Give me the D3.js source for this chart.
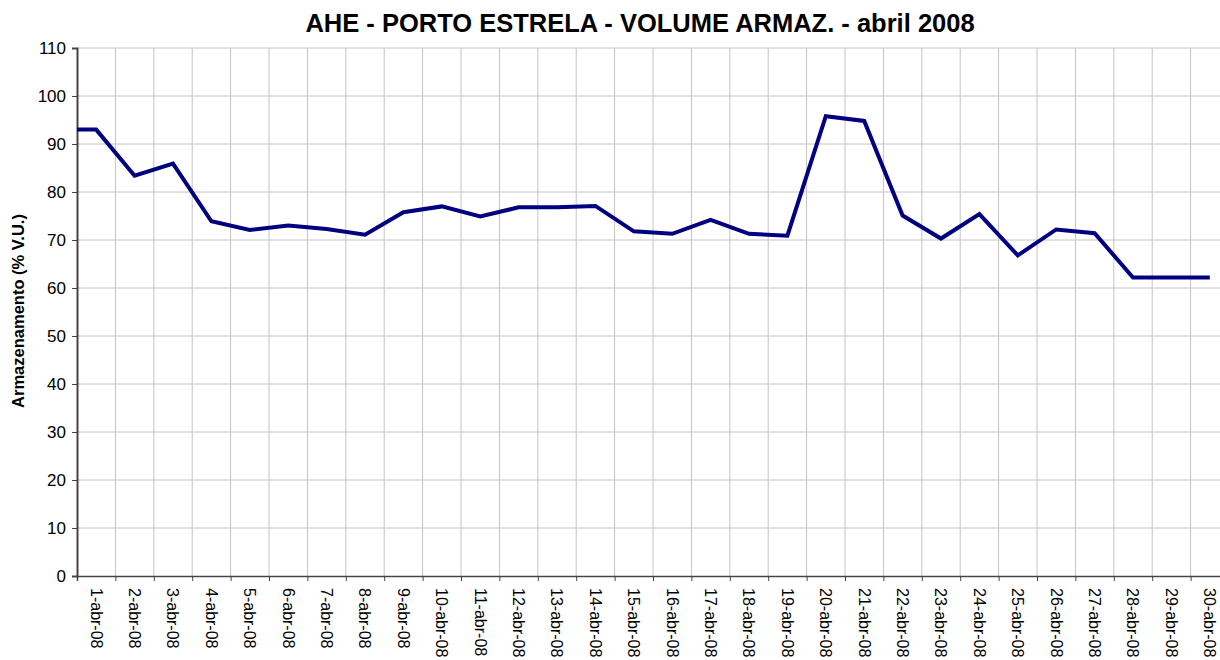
<!DOCTYPE html>
<html>
<head>
<meta charset="utf-8">
<script src="https://cdn.jsdelivr.net/npm/d3@7"></script>
<style>
  body { margin: 0; background: #fff; }
  svg { display: block; font-family: "Liberation Sans", Arial, sans-serif; }
</style>
</head>
<body>
<div class="lineChart"></div>
<script>
// data
var days = ["1-abr-08","2-abr-08","3-abr-08","4-abr-08","5-abr-08","6-abr-08","7-abr-08","8-abr-08","9-abr-08","10-abr-08",
  "11-abr-08","12-abr-08","13-abr-08","14-abr-08","15-abr-08","16-abr-08","17-abr-08","18-abr-08","19-abr-08","20-abr-08",
  "21-abr-08","22-abr-08","23-abr-08","24-abr-08","25-abr-08","26-abr-08","27-abr-08","28-abr-08","29-abr-08","30-abr-08"];
var storage = [93.0, 83.4, 85.9, 73.9, 72.1, 73.0, 72.3, 71.1, 75.8, 77.0,
  74.9, 76.8, 76.8, 77.1, 71.8, 71.3, 74.2, 71.3, 70.9, 95.8,
  94.8, 75.1, 70.3, 75.4, 66.8, 72.2, 71.4, 62.2, 62.2, 62.2];
// last value of the previous month, only its segment inside the plot shows
var prevDay = "31-mar-08";
var prevStorage = 93.0;
var yTicks = [0, 10, 20, 30, 40, 50, 60, 70, 80, 90, 100, 110];

var svgWidth = 1220;
var svgHeight = 660;
var margin = { top: 48, right: -9, bottom: 84, left: 77 };
var width = svgWidth - margin.left - margin.right;
var height = svgHeight - margin.top - margin.bottom;

var svg = d3.select(".lineChart").append("svg")
  .attr("width", svgWidth)
  .attr("height", svgHeight);

svg.append("text")
  .attr("x", 640)
  .attr("y", 32)
  .attr("text-anchor", "middle")
  .style("font-size", "25.5px")
  .style("font-weight", "bold")
  .text("AHE - PORTO ESTRELA - VOLUME ARMAZ. - abril 2008");

var chartGroup = svg.append("g")
  .attr("transform", `translate(${margin.left}, ${margin.top})`);

// x positions by category index, ticks sit on the category edges
var xScale = d3.scaleLinear().domain([0, days.length]).range([0, width]);
var yScale = d3.scaleLinear().domain([0, 110]).range([height, 0]);

// gridlines
chartGroup.append("g").selectAll("line.h")
  .data(yTicks.slice(1))
  .enter().append("line")
  .attr("x1", 0).attr("x2", width)
  .attr("y1", d => yScale(d)).attr("y2", d => yScale(d))
  .attr("stroke", "#c4c4c4").attr("stroke-width", 1);

chartGroup.append("g").selectAll("line.v")
  .data(d3.range(1, days.length + 1))
  .enter().append("line")
  .attr("x1", d => xScale(d)).attr("x2", d => xScale(d))
  .attr("y1", 0).attr("y2", height)
  .attr("stroke", "#c4c4c4").attr("stroke-width", 1);

// axes
var leftAxis = d3.axisLeft(yScale).tickValues(yTicks).tickSize(5).tickPadding(6);
var yAxis = chartGroup.append("g").call(leftAxis);
yAxis.select(".domain").attr("stroke", "#444").attr("stroke-width", 2);
yAxis.selectAll(".tick line").attr("stroke", "#444");
yAxis.selectAll("text").style("font-size", "17px").attr("fill", "#000");

var bottomAxis = d3.axisBottom(xScale).tickValues(d3.range(0, days.length + 1)).tickSize(5).tickFormat("");
var xAxis = chartGroup.append("g")
  .attr("transform", `translate(0, ${height})`)
  .call(bottomAxis);
xAxis.select(".domain").attr("stroke", "#444").attr("stroke-width", 1.5);
xAxis.selectAll(".tick line").attr("stroke", "#444");

chartGroup.append("g").selectAll("text")
  .data(days)
  .enter().append("text")
  .attr("transform", (d, i) => `translate(${xScale(i + 0.5)}, ${height + 12}) rotate(90)`)
  .attr("dy", "0.35em")
  .style("font-size", "16px")
  .text(d => d);

// y axis title
svg.append("text")
  .attr("transform", `translate(24, ${margin.top + height / 2 - 1}) rotate(-90)`)
  .attr("text-anchor", "middle")
  .style("font-size", "16.5px")
  .style("font-weight", "bold")
  .text("Armazenamento (% V.U.)");

// line
chartGroup.append("clipPath").attr("id", "plotClip")
  .append("rect").attr("width", width).attr("height", height);

var series = [{ i: -1, v: prevStorage, day: prevDay }]
  .concat(storage.map((v, i) => ({ i: i, v: v, day: days[i] })));

var line = d3.line()
  .x(d => xScale(d.i + 0.5))
  .y(d => yScale(d.v));

chartGroup.append("path")
  .datum(series)
  .attr("clip-path", "url(#plotClip)")
  .attr("d", line)
  .attr("fill", "none")
  .attr("stroke", "#000080")
  .attr("stroke-width", 4)
  .attr("stroke-linejoin", "miter");
</script>
</body>
</html>
